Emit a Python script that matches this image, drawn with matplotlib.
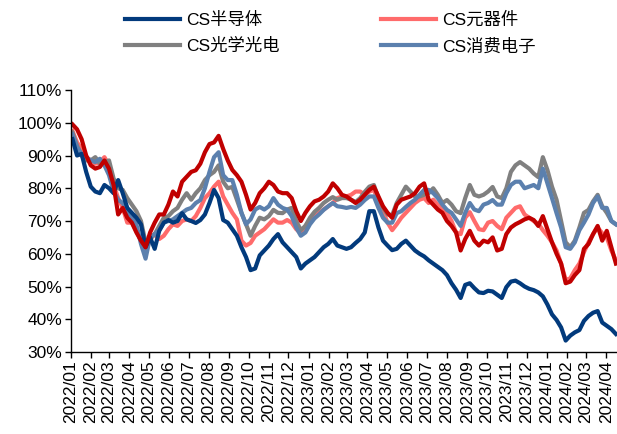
import matplotlib
matplotlib.use('Agg')
import matplotlib.pyplot as plt
import matplotlib.dates as mdates
from matplotlib.ticker import FuncFormatter
import pandas as pd

plt.rcParams['font.family'] = ['Liberation Sans', 'Noto Sans CJK SC', 'DejaVu Sans']

# weekly observations, index level (start = 100%)
dates = pd.date_range('2022-01-04', periods=120, freq='7D')

semi = [95, 90, 90.5, 85, 80.5, 79, 78.5, 81, 80, 78.5,
        82.5, 78.5, 74, 72.5, 71, 69, 62, 65, 61.5, 67,
        69.5, 70.3, 69.5, 70, 72.4, 70.5, 70, 69.4, 70.3, 72,
        75.5, 79.5, 77, 70.3, 69.5, 67.5, 65.5, 62, 59, 55,
        55.5, 59.5, 61, 62.5, 64.5, 66, 63.5, 62, 60.5, 59,
        55.5, 57, 58, 59, 60.5, 62, 63, 64.5, 62.5, 62,
        61.5, 62, 63.3, 64.5, 66.5, 73, 73, 68, 64, 62.5,
        61.1, 61.5, 63, 64, 62.5, 61, 60, 59.2, 58, 57,
        56, 55, 53.5, 51, 49, 46.5, 50.5, 51, 49.5, 48.2,
        48, 48.7, 48.5, 47.5, 46.5, 49.8, 51.5, 51.8, 51, 50,
        49.3, 48.9, 48.2, 47, 44.5, 41.5, 39.8, 37.5, 33.5, 35,
        36, 36.7, 39.5, 41, 42, 42.5, 39, 38, 37, 35.5]

components = [97.5, 94, 92, 89.5, 88.5, 87.5, 88, 89.5, 87, 81,
              77, 74, 69.5, 69.5, 67, 64, 60.5, 64.5, 66, 64.5,
              65.5, 67.5, 69, 68.5, 70, 70.5, 70, 71.5, 74, 77,
              78.5, 80.5, 82, 77.5, 75, 72.5, 70.5, 64, 62.5, 63.3,
              65.5, 66.5, 67.5, 69, 70.5, 69.5, 69.5, 70.3, 69.5, 67.5,
              66.3, 68.5, 70, 71.5, 72.5, 73.5, 74.5, 75.5, 77, 77.5,
              77.5, 78, 79, 79, 78, 79, 79.5, 76, 73, 69.5,
              67.2, 69, 71, 72.5, 74, 75.5, 76.5, 77, 75.5, 76.5,
              75, 73.4, 72.4, 70, 66.5, 66, 71, 72.7, 70, 67.5,
              67.2, 69.5, 70, 68.5, 67.5, 71, 72.5, 74, 74.5, 72,
              71, 70, 69.2, 67.2, 65.5, 63.5, 61, 57, 52, 52.5,
              55, 57, 60.5, 63.5, 66, 68, 66.3, 65, 61, 58]

optical = [97, 93, 90, 88.5, 88.5, 89.5, 87.5, 88, 88.5, 83,
           80, 79.5, 77, 75, 73, 70, 63.5, 64.5, 66, 68.5,
           71, 71.5, 73, 74, 76.5, 78.5, 76.5, 78.5, 80, 82.5,
           84, 85, 87, 82, 80, 80.4, 76.5, 72.5, 69, 65.5,
           68.5, 71, 70.5, 71.5, 73.4, 72.5, 72.4, 73.5, 74, 70,
           67.2, 68.5, 71, 72.8, 74, 75.5, 76.5, 77.3, 76.5, 77,
           77, 76.5, 75.8, 77, 78.9, 80.5, 81, 77, 74, 72,
           71.8, 75.5, 78, 80.5, 79, 77.5, 77.5, 78, 78.5, 80,
           78, 75.5, 76.4, 75, 73, 72.4, 77, 81, 78, 77.5,
           78, 79, 80.4, 77.5, 77, 80, 85, 87, 88, 87,
           86, 84.5, 83.4, 89.5, 85.6, 80.5, 76.5, 70, 63.5, 62,
           64, 68, 72.5, 73.4, 76, 78, 74.5, 72.5, 70, 69]

consumer = [96.5, 92.5, 90.5, 89.5, 88.5, 88, 89, 87, 84, 79,
            76.5, 75.5, 73, 71, 69, 63, 58.5, 65, 66, 67.2,
            69.5, 70, 70.5, 71.5, 72.5, 73.5, 74, 75.5, 76.4, 80,
            85, 89.5, 91, 84, 82.5, 82.5, 78, 72.5, 69, 70.5,
            73.5, 74.3, 73.5, 74.5, 77, 75, 74, 73.5, 71.5, 68,
            65.5, 66.5, 69, 70.8, 72, 73.4, 74.5, 75.5, 74.5, 74.3,
            74, 74.3, 74, 75, 76.4, 77.5, 77.5, 74, 71, 69.5,
            69.5, 72.4, 73, 74.3, 75.5, 76.5, 78, 79.5, 79.5, 78.5,
            77, 75, 73.4, 72.5, 70.5, 68.5, 72.5, 75.5, 73.5, 73,
            75, 75.5, 76.4, 75, 75, 78.5, 81, 82, 82, 80,
            80.5, 81, 80, 86, 81.5, 77, 72.4, 68, 62, 61.5,
            63.5, 67.2, 69.5, 72, 75.5, 77.5, 74, 74, 70, 69]

# series drawn in dark red, not listed in the legend
other = [99.5, 98, 95, 90, 87, 86, 86.5, 88.5, 86, 81,
         72, 74, 71, 69.5, 66.5, 64, 62, 66.5, 69.5, 72,
         72, 75, 79, 77.5, 82, 83.5, 85, 85.5, 87.5, 91,
         93.5, 94, 96, 92, 88.5, 85.6, 84, 82, 78, 73.5,
         75.5, 78.5, 80, 82, 81, 79, 78.5, 78.5, 77, 73,
         70, 72.5, 74.5, 76, 76.5, 77.5, 79, 81.5, 80, 78,
         77.5, 76.5, 75.5, 76.5, 78, 79.5, 80.5, 77.5, 74.5, 72.5,
         71, 75, 76.5, 77, 77.5, 78.5, 80.5, 81.5, 76.5, 75,
         73.5, 72.5, 70, 68.5, 66.5, 61, 64.5, 67, 64, 62.5,
         64, 63.5, 65, 61, 61.5, 66, 68, 69, 69.7, 70.5,
         71, 70.3, 68.5, 71.5, 67.5, 63.5, 60, 57, 51, 51.5,
         53.5, 55, 61.5, 63, 66, 68.5, 64, 67, 62, 57]

fig = plt.figure(figsize=(6.17, 4.34), dpi=100)
ax = fig.add_axes([0.1143, 0.1889, 0.885, 0.6037])

lw = 3
l_comp, = ax.plot(dates, components, color='#FF6B6B', lw=lw, label='CS元器件')
l_opt, = ax.plot(dates, optical, color='#808080', lw=lw, label='CS光学光电')
l_cons, = ax.plot(dates, consumer, color='#5B80AE', lw=lw, label='CS消费电子')
l_semi, = ax.plot(dates, semi, color='#023A7C', lw=lw, label='CS半导体')
ax.plot(dates, other, color='#C00000', lw=lw, label='_nolegend_')

ax.set_ylim(30, 110)
ax.set_yticks(range(30, 111, 10))
ax.yaxis.set_major_formatter(FuncFormatter(lambda v, p: f'{v:.0f}%'))

ax.set_xlim(pd.Timestamp('2022-01-01'), pd.Timestamp('2024-04-17'))
ax.xaxis.set_major_locator(mdates.MonthLocator())
ax.xaxis.set_major_formatter(mdates.DateFormatter('%Y/%m'))
for lab in ax.get_xticklabels():
    lab.set_rotation(90)

ax.tick_params(axis='both', labelsize=12.5, length=4, width=1, direction='out', pad=2)
ax.spines['top'].set_visible(False)
ax.spines['right'].set_visible(False)
ax.spines['left'].set_linewidth(1)
ax.spines['bottom'].set_linewidth(1)

fig.legend([l_semi, l_opt, l_comp, l_cons],
           ['CS半导体', 'CS光学光电', 'CS元器件', 'CS消费电子'],
           loc='upper center', bbox_to_anchor=(0.535, 1.01), ncol=2,
           frameon=False, fontsize=12.5, handlelength=3.2,
           columnspacing=5.85, labelspacing=0.6, handletextpad=0.3)

fig.savefig('out.png', dpi=100)
